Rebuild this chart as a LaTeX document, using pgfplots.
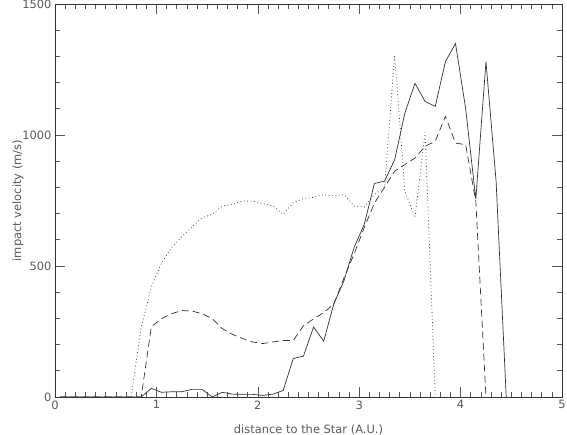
\documentclass[border=0pt]{standalone}
\usepackage{pgfplots}
\pgfplotsset{compat=1.18}
\usepackage{fontspec}
\setmainfont{DejaVu Sans}

\definecolor{ink}{gray}{0.2}
\definecolor{txt}{gray}{0.35}

\begin{document}
\begin{tikzpicture}[x=1bp,y=1bp]
\useasboundingbox (-55,-38) rectangle (512,397);
\begin{axis}[
    at={(0,0)}, anchor=south west,
    scale only axis, width=507bp, height=393bp,
    xmin=0, xmax=5, ymin=0, ymax=1500,
    xtick={0,1,2,3,4,5}, minor x tick num=9,
    ytick={0,500,1000,1500}, minor y tick num=4,
    tick align=inside,
    major tick length=10bp, minor tick length=5bp,
    axis line style={ink, line width=0.6bp},
    tick style={txt, line width=0.6bp},
    ticklabel style={font=\fontsize{11.5}{14}\selectfont, text=txt},
    /pgf/number format/assume math mode=true,
    /pgf/number format/1000 sep={},
    xlabel={distance to the Star (A.U.)},
    ylabel={impact velocity (m/s)},
    label style={font=\fontsize{11.5}{14}\selectfont, text=txt},
    xlabel style={at={(axis description cs:0.5,-0.083)}, anchor=center},
    ylabel style={at={(axis description cs:-0.073,0.5)}, anchor=center},
    cycle list={{ink, solid}, {ink, dash pattern=on 7bp off 4bp}, {ink, dash pattern=on 0.8bp off 2.6bp}},
    every axis plot/.append style={line width=0.7bp, no markers},
]
% solid
\addplot coordinates {
(0.05,0)(0.15,0)(0.25,0)(0.35,0)(0.45,0)(0.55,0)(0.65,0)(0.75,0)(0.85,0)
(0.95,33)(1.05,18)(1.15,20)(1.25,20)(1.35,29)(1.45,29)(1.55,0)(1.65,18)
(1.75,11)(1.85,10)(1.95,10)(2.05,6)(2.15,11)(2.25,25)(2.35,147)(2.45,156)
(2.55,267)(2.65,213)(2.75,356)(2.85,444)(2.95,571)(3.05,659)(3.15,815)
(3.25,824)(3.35,906)(3.45,1083)(3.55,1197)(3.65,1128)(3.75,1109)(3.85,1280)
(3.95,1349)(4.05,1100)(4.15,755)(4.25,1280)(4.35,824)(4.45,0)
};
% dashed
\addplot coordinates {
(0.05,0)(0.25,0)(0.45,0)(0.65,0)(0.85,0)
(0.95,268)(1.05,299)(1.15,318)(1.25,330)(1.35,328)(1.45,318)(1.55,299)
(1.65,261)(1.75,239)(1.85,223)(1.95,210)(2.05,204)(2.15,210)(2.25,216)
(2.35,216)(2.45,272)(2.55,298)(2.65,322)(2.75,355)(2.85,455)(2.95,546)
(3.05,647)(3.15,740)(3.25,800)(3.35,862)(3.45,887)(3.55,912)(3.65,957)
(3.75,976)(3.85,1071)(3.95,969)(4.05,963)(4.15,748)(4.25,0)
};
% dotted
\addplot coordinates {
(0.05,0)(0.35,0)(0.75,0)
(0.85,265)(0.95,420)(1.05,512)(1.15,570)(1.25,612)(1.35,648)(1.45,685)
(1.55,697)(1.65,729)(1.75,735)(1.85,748)(1.95,748)(2.05,738)(2.15,729)
(2.25,697)(2.35,742)(2.45,757)(2.55,762)(2.65,772)(2.75,767)(2.85,773)
(2.95,729)(3.05,725)(3.15,773)(3.25,800)(3.35,1305)(3.45,786)(3.55,685)
(3.65,1010)(3.75,0)
};
\end{axis}
\end{tikzpicture}
\end{document}
